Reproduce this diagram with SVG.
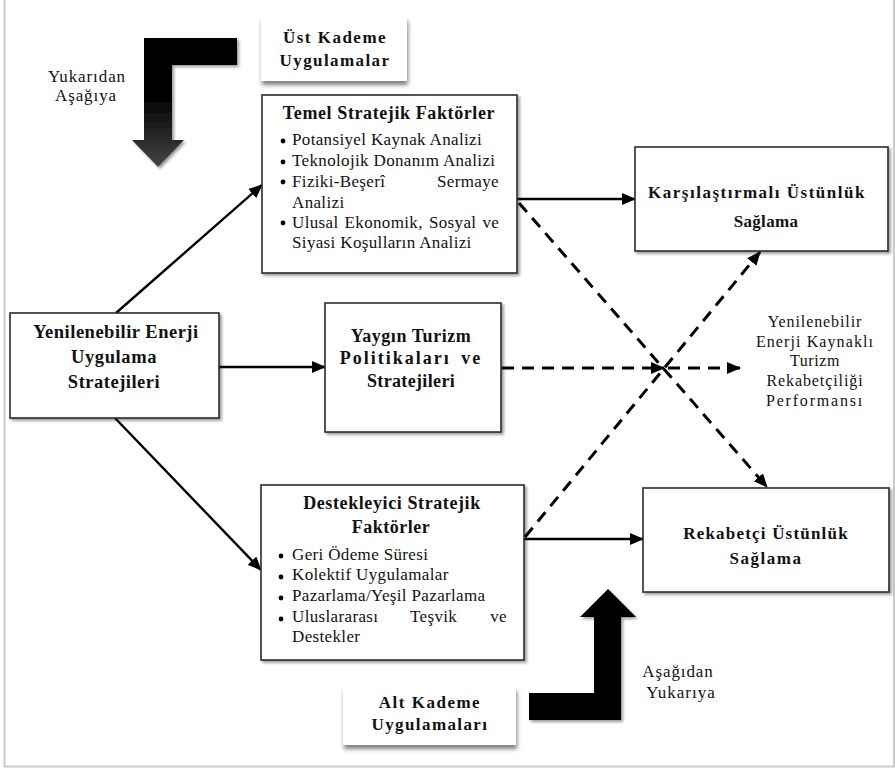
<svg xmlns="http://www.w3.org/2000/svg" width="895" height="769" viewBox="0 0 895 769" font-family="Liberation Serif, Times New Roman, serif">
<style>
text{font-family:"Liberation Serif","Times New Roman",serif;fill:#111}
.b{font-weight:bold}
.t16{font-size:16px}
.t17{font-size:17px}
.t18{font-size:18px}
.t185{font-size:18.5px}
.c{text-anchor:middle}
.e{text-anchor:end}
.bl{font-size:17px;letter-spacing:0.35px}
.box{fill:#fff;stroke:#2a2a2a;stroke-width:1.6}
.lbl{fill:#fff}
.ln{fill:none;stroke:#000;stroke-width:2.4;marker-end:url(#ah)}
.dl{fill:none;stroke:#000;stroke-width:3;stroke-dasharray:12 8;marker-end:url(#ah)}
.frame{fill:none;stroke:#cbcbcb;stroke-width:2}
</style>
<defs>
<marker id="ah" markerUnits="userSpaceOnUse" markerWidth="14" markerHeight="12" refX="13" refY="6" orient="auto">
<path d="M0,0 L14,6 L0,12 Z" fill="#000"/>
</marker>
<filter id="sh" x="-10%" y="-10%" width="125%" height="130%">
<feDropShadow dx="2" dy="2" stdDeviation="1.6" flood-color="#000" flood-opacity="0.4"/>
</filter>
<filter id="sh2" x="-10%" y="-20%" width="125%" height="150%">
<feDropShadow dx="1" dy="4" stdDeviation="2.2" flood-color="#000" flood-opacity="0.5"/>
</filter>
<linearGradient id="gr" gradientUnits="userSpaceOnUse" x1="0" y1="95" x2="0" y2="167">
<stop offset="0" stop-color="#000"/>
<stop offset="1" stop-color="#454545"/>
</linearGradient>
</defs>

<path class="frame" d="M4.5,0 V766.5 H894 V0"/>

<g id="top-arrow">
<path d="M144,38 H237 V65 H172 V140 H184 L158,167 L132,140 H144 Z" fill="url(#gr)" filter="url(#sh)"/>
<text class="t17 c" x="87" y="82" letter-spacing="0.9">Yukarıdan</text>
<text class="t17 c" x="86" y="101" letter-spacing="0.9">Aşağıya</text>
</g>

<g id="bottom-arrow">
<path d="M529,693 H594 V617 H580 L608,589 L636,617 H621 V720 H529 Z" fill="#000" filter="url(#sh)"/>
<text class="t17 c" x="678" y="677" letter-spacing="0.9">Aşağıdan</text>
<text class="t17 c" x="681" y="698" letter-spacing="1">Yukarıya</text>
</g>

<g id="connectors">
<line class="ln" x1="116" y1="313" x2="262" y2="185"/>
<line class="ln" x1="219" y1="367" x2="325" y2="367"/>
<line class="ln" x1="115" y1="418" x2="261" y2="570"/>
<line class="ln" x1="517" y1="199" x2="635" y2="199"/>
<line class="ln" x1="524" y1="539" x2="643" y2="539"/>
<line class="dl" x1="519" y1="203" x2="767" y2="487"/>
<line class="dl" x1="525" y1="537" x2="760" y2="252"/>
<line class="dl" x1="502" y1="368" x2="664" y2="368"/>
<line class="dl" x1="668" y1="368" x2="740" y2="368"/>
</g>

<g id="ust-kademe">
<rect class="lbl" x="261" y="17" width="146" height="64" filter="url(#sh2)"/>
<text class="t17 b c" x="335" y="43" letter-spacing="1.5">Üst Kademe</text>
<text class="t17 b c" x="335" y="66" letter-spacing="1.4">Uygulamalar</text>
</g>

<g id="temel">
<rect class="box" x="262" y="95" width="255" height="178" filter="url(#sh)"/>
<text class="t18 b c" x="389" y="119" letter-spacing="0.6">Temel Stratejik Faktörler</text>
<circle cx="283" cy="141" r="2.4" fill="#000"/>
<circle cx="283" cy="162" r="2.4" fill="#000"/>
<circle cx="283" cy="182" r="2.4" fill="#000"/>
<circle cx="283" cy="223" r="2.4" fill="#000"/>
<text class="bl" x="292" y="145">Potansiyel Kaynak Analizi</text>
<text class="bl" x="292" y="166">Teknolojik Donanım Analizi</text>
<text class="bl" x="292" y="187">Fiziki-Beşerî</text>
<text class="bl e" x="499" y="187">Sermaye</text>
<text class="bl" x="292" y="208">Analizi</text>
<text class="bl" x="292" y="228" word-spacing="1.5">Ulusal Ekonomik, Sosyal ve</text>
<text class="bl" x="292" y="248">Siyasi Koşulların Analizi</text>
</g>

<g id="yenilenebilir">
<rect class="box" x="10" y="313" width="209" height="105" filter="url(#sh)"/>
<text class="t185 b c" x="116" y="338" letter-spacing="0.5">Yenilenebilir Enerji</text>
<text class="t185 b c" x="114" y="363" letter-spacing="0.6">Uygulama</text>
<text class="t185 b c" x="114" y="388" letter-spacing="0.5">Stratejileri</text>
</g>

<g id="yaygin">
<rect class="box" x="325" y="303" width="176" height="129" filter="url(#sh)"/>
<text class="t18 b c" x="411" y="342" letter-spacing="0.55">Yaygın Turizm</text>
<text class="t18 b c" x="411" y="364" letter-spacing="2" word-spacing="4">Politikaları ve</text>
<text class="t18 b c" x="411" y="387" letter-spacing="0.35">Stratejileri</text>
</g>

<g id="karsilastirmali">
<rect class="box" x="635" y="147" width="253" height="104" filter="url(#sh)"/>
<text class="t17 b c" x="757" y="198" letter-spacing="1.5">Karşılaştırmalı Üstünlük</text>
<text class="t17 b c" x="766" y="227" letter-spacing="0.3">Sağlama</text>
</g>

<g id="performans">
<text class="t16 c" x="815" y="327" letter-spacing="0.9">Yenilenebilir</text>
<text class="t16 c" x="815" y="347" letter-spacing="1.1">Enerji Kaynaklı</text>
<text class="t16 c" x="815" y="366" letter-spacing="0.6">Turizm</text>
<text class="t16 c" x="815" y="386" letter-spacing="0.9">Rekabetçiliği</text>
<text class="t16 c" x="815" y="406" letter-spacing="1.8">Performansı</text>
</g>

<g id="rekabetci">
<rect class="box" x="643" y="488" width="246" height="104" filter="url(#sh)"/>
<text class="t17 b c" x="766" y="539" letter-spacing="1.2">Rekabetçi Üstünlük</text>
<text class="t17 b c" x="766" y="564" letter-spacing="1.5">Sağlama</text>
</g>

<g id="destekleyici">
<rect class="box" x="261" y="485" width="263" height="175" filter="url(#sh)"/>
<text class="t18 b c" x="392" y="509" letter-spacing="0.6">Destekleyici Stratejik</text>
<text class="t18 b c" x="391" y="533" letter-spacing="0.5">Faktörler</text>
<circle cx="281" cy="556" r="2.4" fill="#000"/>
<circle cx="281" cy="577" r="2.4" fill="#000"/>
<circle cx="281" cy="598" r="2.4" fill="#000"/>
<circle cx="281" cy="619" r="2.4" fill="#000"/>
<text class="bl" x="292" y="560">Geri Ödeme Süresi</text>
<text class="bl" x="292" y="580">Kolektif Uygulamalar</text>
<text class="bl" x="292" y="601">Pazarlama/Yeşil Pazarlama</text>
<text class="bl" x="292" y="622">Uluslararası</text>
<text class="bl" x="410" y="622">Teşvik</text>
<text class="bl e" x="507" y="622">ve</text>
<text class="bl" x="292" y="642">Destekler</text>
</g>

<g id="alt-kademe">
<rect class="lbl" x="343" y="687" width="173" height="58" filter="url(#sh2)"/>
<text class="t17 b c" x="430" y="708" letter-spacing="1.5">Alt Kademe</text>
<text class="t17 b c" x="430" y="730" letter-spacing="1.4">Uygulamaları</text>
</g>
</svg>
